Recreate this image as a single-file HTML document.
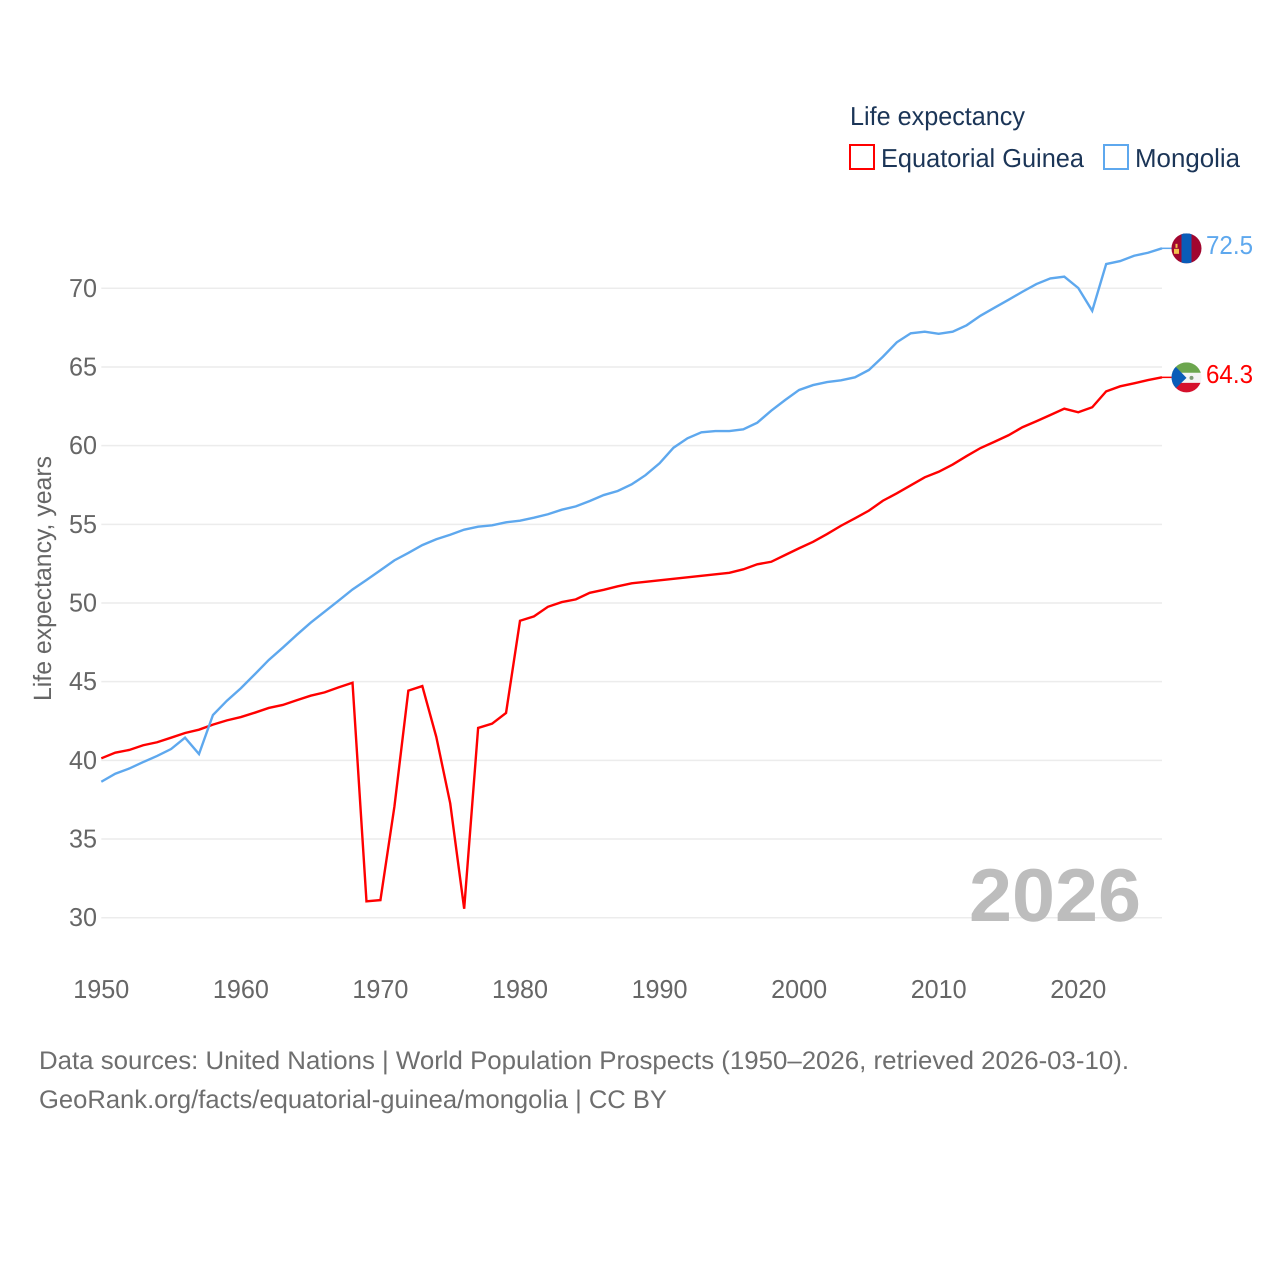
<!DOCTYPE html>
<html lang="en">
<head>
<meta charset="utf-8">
<title>Life expectancy: Equatorial Guinea and Mongolia</title>
<style>
html,body{margin:0;padding:0;background:#fff;}
svg{display:block;}
text{font-family:"Liberation Sans",sans-serif;text-rendering:geometricPrecision;}
</style>
</head>
<body>
<svg id="chart" width="1280" height="1280" viewBox="0 0 1280 1280" xmlns="http://www.w3.org/2000/svg">
  <rect x="0" y="0" width="1280" height="1280" fill="#fff"/>
  <g id="grid"></g>
  <g id="yticks"></g>
  <g id="xticks"></g>
  <text transform="translate(51,701) rotate(-90)" font-size="25" fill="#666" textLength="245" lengthAdjust="spacingAndGlyphs">Life expectancy, years</text>
  <text x="969" y="921" font-size="75" font-weight="700" fill="#bdbdbd" textLength="172" lengthAdjust="spacingAndGlyphs">2026</text>

  <g>
    <text x="850" y="125" font-size="26" fill="#1b3557" textLength="175" lengthAdjust="spacingAndGlyphs">Life expectancy</text>
    <g>
      <rect x="850" y="145" width="24" height="24" fill="#fff" stroke="#ff0000" stroke-width="2"/>
      <text x="881" y="167" font-size="26" fill="#1b3557" textLength="203" lengthAdjust="spacingAndGlyphs">Equatorial Guinea</text>
    </g>
    <g>
      <rect x="1104" y="145" width="24" height="24" fill="#fff" stroke="#5ea8ee" stroke-width="2"/>
      <text x="1135" y="167" font-size="26" fill="#1b3557" textLength="105" lengthAdjust="spacingAndGlyphs">Mongolia</text>
    </g>
  </g>

  <g id="series"></g>
  <g id="ends"></g>

  <g>
    <text x="39" y="1069" font-size="25.5" fill="#6e6e6e" textLength="1090" lengthAdjust="spacingAndGlyphs">Data sources: United Nations | World Population Prospects (1950–2026, retrieved 2026-03-10).</text>
    <text x="39" y="1108" font-size="25.5" fill="#6e6e6e" textLength="628" lengthAdjust="spacingAndGlyphs">GeoRank.org/facts/equatorial-guinea/mongolia | CC BY</text>
  </g>
</svg>
<script>
const firstYear = 1950;
const equatorialGuinea = [
  40.13,40.49,40.66,40.96,41.15,41.44,41.74,41.95,42.27,42.54,
  42.75,43.03,43.33,43.52,43.82,44.11,44.32,44.64,44.93,31.04,
  31.12,37.05,44.43,44.72,41.50,37.27,30.57,42.06,42.33,43.01,
  48.87,49.15,49.76,50.06,50.23,50.65,50.84,51.06,51.25,51.35,
  51.44,51.54,51.63,51.73,51.82,51.92,52.14,52.46,52.62,53.05,
  53.48,53.89,54.38,54.91,55.38,55.87,56.50,56.97,57.48,57.99,
  58.34,58.80,59.34,59.85,60.25,60.66,61.17,61.55,61.95,62.35,
  62.12,62.44,63.45,63.77,63.96,64.17,64.34
];
const mongolia = [
  38.64,39.15,39.48,39.89,40.28,40.72,41.44,40.40,42.88,43.79,
  44.58,45.47,46.38,47.16,47.97,48.75,49.45,50.15,50.86,51.46,
  52.08,52.71,53.18,53.68,54.05,54.34,54.66,54.85,54.94,55.13,
  55.23,55.42,55.64,55.93,56.14,56.48,56.86,57.12,57.54,58.13,
  58.88,59.87,60.47,60.85,60.93,60.93,61.04,61.46,62.22,62.90,
  63.54,63.85,64.04,64.15,64.34,64.81,65.65,66.57,67.14,67.24,
  67.11,67.24,67.65,68.26,68.77,69.27,69.78,70.27,70.63,70.74,
  70.02,68.57,71.54,71.73,72.07,72.26,72.54
];
const yTickValues = [30,35,40,45,50,55,60,65,70];
const xTickValues = [1950,1960,1970,1980,1990,2000,2010,2020];
const endLabels = ["64.3","72.5"];

const SVGNS = "http://www.w3.org/2000/svg";
const plot = {left:101.3, right:1162, y30:917.7, y70:288.3};
function xScale(year){ return plot.left + (year - 1950) * (plot.right - plot.left) / 76; }
function yScale(v){ return plot.y30 - (v - 30) * (plot.y30 - plot.y70) / 40; }
function make(tag, attrs){
  const el = document.createElementNS(SVGNS, tag);
  for (const k in attrs) el.setAttribute(k, attrs[k]);
  return el;
}

const grid = document.getElementById('grid');
const yticks = document.getElementById('yticks');
yTickValues.forEach(function(v){
  const line = make('line', {x1:plot.left, x2:plot.right, y1:yScale(v), y2:yScale(v), stroke:'#ececec', 'stroke-width':1.5});
  
  
  grid.appendChild(line);
  const t = make('text', {x:97, y:yScale(v)+8.5, 'text-anchor':'end', 'font-size':26, fill:'#666', textLength:28, lengthAdjust:'spacingAndGlyphs'});
  
  
  t.textContent = String(v);
  yticks.appendChild(t);
});

const xticks = document.getElementById('xticks');
xTickValues.forEach(function(y){
  const t = make('text', {x:xScale(y), y:998, 'text-anchor':'middle', 'font-size':26, fill:'#666', textLength:56, lengthAdjust:'spacingAndGlyphs'});
  
  
  t.textContent = String(y);
  xticks.appendChild(t);
});

function linePoints(values){
  return values.map(function(v, i){
    return xScale(firstYear + i).toFixed(2) + ',' + yScale(v).toFixed(2);
  }).join(' ');
}
const seriesGroup = document.getElementById('series');

const lineGuinea = make('polyline', {points:linePoints(equatorialGuinea), fill:'none', stroke:'#ff0000', 'stroke-width':2.4, 'stroke-linejoin':'miter'});


seriesGroup.appendChild(lineGuinea);

const lineMongolia = make('polyline', {points:linePoints(mongolia), fill:'none', stroke:'#5ea8ee', 'stroke-width':2.4, 'stroke-linejoin':'miter'});


seriesGroup.appendChild(lineMongolia);

const ends = document.getElementById('ends');
const lastYear = firstYear + equatorialGuinea.length - 1;
const yGuinea = yScale(equatorialGuinea[equatorialGuinea.length - 1]);
const yMongolia = yScale(mongolia[mongolia.length - 1]);

const connGuinea = make('line', {x1:xScale(lastYear), x2:1172, y1:yGuinea, y2:yGuinea, stroke:'#ff0000', 'stroke-width':1.5});


ends.appendChild(connGuinea);

const connMongolia = make('line', {x1:xScale(lastYear), x2:1172, y1:yMongolia, y2:yMongolia, stroke:'#5ea8ee', 'stroke-width':1.5});


ends.appendChild(connMongolia);

function addClip(id, cx, cy){
  let defs = document.getElementById('defs');
  if (!defs){ defs = make('defs', {id:'defs'}); ends.appendChild(defs); }
  const cp = make('clipPath', {id:id});
  cp.appendChild(make('circle', {cx:cx, cy:cy, r:15}));
  defs.appendChild(cp);
}
const fx = 1186.5;

// Mongolia flag
addClip('clipMn', fx, yMongolia);
const flagMn = make('g', {'clip-path':'url(#clipMn)'});


flagMn.appendChild(make('rect', {x:fx-15, y:yMongolia-15, width:30, height:30, fill:'#a1062f'}));
flagMn.appendChild(make('rect', {x:fx-5, y:yMongolia-15, width:10, height:30, fill:'#0a5cb8'}));
flagMn.appendChild(make('rect', {x:fx-12.5, y:yMongolia+0.5, width:5, height:5, fill:'#f2c14e'}));
flagMn.appendChild(make('rect', {x:fx-11, y:yMongolia-4.5, width:2, height:4, fill:'#f2c14e'}));
ends.appendChild(flagMn);

// Equatorial Guinea flag
addClip('clipGq', fx, yGuinea);
const flagGq = make('g', {'clip-path':'url(#clipGq)'});


flagGq.appendChild(make('rect', {x:fx-15, y:yGuinea-15, width:30, height:10.5, fill:'#6ca64e'}));
flagGq.appendChild(make('rect', {x:fx-15, y:yGuinea-4.5, width:30, height:10, fill:'#f4f4f4'}));
flagGq.appendChild(make('rect', {x:fx-15, y:yGuinea+5.5, width:30, height:10, fill:'#d5102c'}));
flagGq.appendChild(make('polygon', {points:(fx-15)+','+(yGuinea-15)+' '+(fx)+','+(yGuinea+0.5)+' '+(fx-15)+','+(yGuinea+15), fill:'#0a5cb8'}));
flagGq.appendChild(make('circle', {cx:fx+5, cy:yGuinea+0.5, r:2, fill:'#7d9a74'}));
ends.appendChild(flagGq);

const labelGuinea = make('text', {x:1206, y:yGuinea+5.5, 'font-size':26, fill:'#ff0000', textLength:47, lengthAdjust:'spacingAndGlyphs'});


labelGuinea.textContent = endLabels[0];
ends.appendChild(labelGuinea);

const labelMongolia = make('text', {x:1206, y:yMongolia+5.5, 'font-size':26, fill:'#5ea8ee', textLength:47, lengthAdjust:'spacingAndGlyphs'});


labelMongolia.textContent = endLabels[1];
ends.appendChild(labelMongolia);
</script>
</body>
</html>
